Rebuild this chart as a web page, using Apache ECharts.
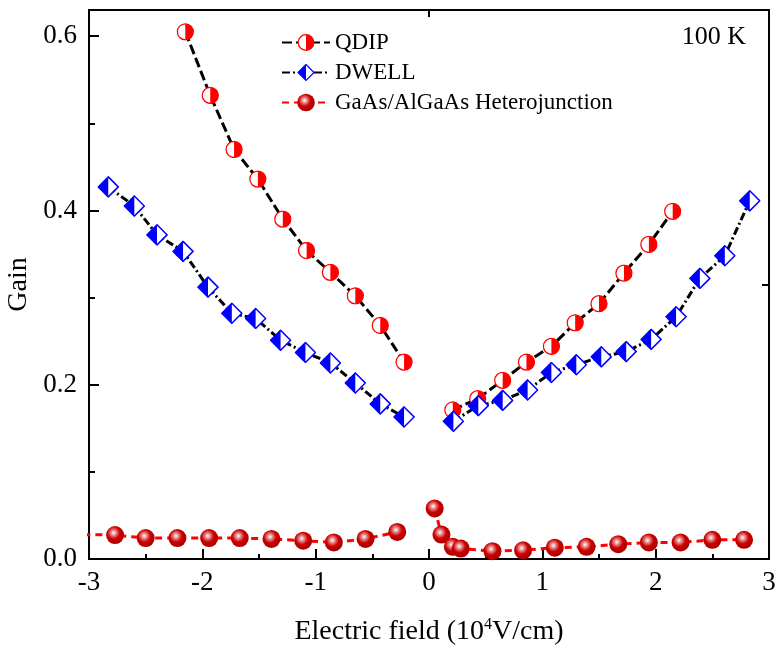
<!DOCTYPE html>
<html>
<head>
<meta charset="utf-8">
<script src="https://cdn.jsdelivr.net/npm/echarts@6/dist/echarts.min.js"></script>
<style>
html,body{margin:0;padding:0;background:#fff;}
#chart{width:775px;height:651px;}
</style>
</head>
<body>
<div id="chart"></div>
<script>
// ---- data ----
const seriesNames = ['QDIP', 'DWELL', 'GaAs/AlGaAs Heterojunction'];

const qdipXNeg = [-2.15, -1.93, -1.72, -1.51, -1.29, -1.08, -0.87, -0.65, -0.43, -0.22];
const qdipYNeg = [0.605, 0.532, 0.470, 0.436, 0.390, 0.354, 0.329, 0.302, 0.268, 0.226];
const qdipXPos = [0.21, 0.43, 0.65, 0.86, 1.08, 1.29, 1.50, 1.72, 1.94, 2.15];
const qdipYPos = [0.171, 0.184, 0.205, 0.226, 0.244, 0.271, 0.293, 0.328, 0.361, 0.399];

const dwellXNeg = [-2.83, -2.60, -2.40, -2.17, -1.95, -1.74, -1.53, -1.31, -1.09, -0.87, -0.65, -0.43, -0.22];
const dwellYNeg = [0.427, 0.405, 0.372, 0.353, 0.312, 0.282, 0.276, 0.251, 0.237, 0.225, 0.202, 0.178, 0.163];
const dwellXPos = [0.215, 0.435, 0.65, 0.87, 1.08, 1.30, 1.52, 1.74, 1.96, 2.18, 2.39, 2.61, 2.83];
const dwellYPos = [0.158, 0.176, 0.182, 0.194, 0.214, 0.223, 0.232, 0.238, 0.252, 0.278, 0.322, 0.348, 0.411];

const hetXNeg = [-3.05, -2.77, -2.50, -2.22, -1.94, -1.67, -1.39, -1.11, -0.84, -0.56, -0.28];
const hetYNeg = [0.028, 0.0275, 0.024, 0.024, 0.024, 0.024, 0.023, 0.021, 0.019, 0.023, 0.031];
const hetXPos = [0.05, 0.11, 0.21, 0.28, 0.56, 0.83, 1.11, 1.39, 1.67, 1.94, 2.22, 2.50, 2.78];
const hetYPos = [0.058, 0.028, 0.014, 0.012, 0.009, 0.010, 0.013, 0.014, 0.017, 0.019, 0.019, 0.022, 0.022];

const xTicks = [-3, -2, -1, 0, 1, 2, 3];
const yTicks = [0.0, 0.2, 0.4, 0.6];

// ---- helpers ----
function pairs(xs, ys) { return xs.map((x, i) => [x, ys[i]]); }
function joinBranches(a, b) { return a.concat([null], b); }

const FONT = "'Liberation Serif','Times New Roman',serif";

const qdipSvg = '<svg xmlns="http://www.w3.org/2000/svg" width="40" height="40" viewBox="0 0 20 20">' +
  '<circle cx="10" cy="10" r="8.9" fill="#fff" stroke="#ff0000" stroke-width="1.4"/>' +
  '<path d="M10,1.1 A8.9,8.9 0 0 1 10,18.9 Z" fill="#ff0000"/></svg>';
const dwellSvg = '<svg xmlns="http://www.w3.org/2000/svg" width="44" height="44" viewBox="0 0 22 22">' +
  '<polygon points="11,1 21,11 11,21 1,11" fill="#fff" stroke="#0000ff" stroke-width="1.5"/>' +
  '<polygon points="11,1 11,21 1,11" fill="#0000ff"/></svg>';
const qdipSym = 'image://data:image/svg+xml;charset=utf-8,' + encodeURIComponent(qdipSvg);
const dwellSym = 'image://data:image/svg+xml;charset=utf-8,' + encodeURIComponent(dwellSvg);

const sphereColor = {
  type: 'radial', x: 0.42, y: 0.38, r: 0.62,
  colorStops: [
    { offset: 0, color: '#ffffff' },
    { offset: 0.22, color: '#e89090' },
    { offset: 0.55, color: '#cc0000' },
    { offset: 1, color: '#a80000' }
  ]
};

const chart = echarts.init(document.getElementById('chart'), null, { renderer: 'canvas' });

const hiddenAxisLine = { show: false, onZero: false };

const option = {
  animation: false,
  backgroundColor: '#fff',
  textStyle: { fontFamily: FONT, color: '#000' },
  title: {
    text: '100 K',
    right: 24, top: 19,
    textStyle: { fontFamily: FONT, fontSize: 26, fontWeight: 'normal', color: '#000' }
  },
  legend: {
    data: seriesNames,
    orient: 'vertical',
    left: 276, top: 26,
    itemWidth: 48, itemHeight: 22, itemGap: 7,
    textStyle: { fontFamily: FONT, fontSize: 23, color: '#000' }
  },
  grid: {
    left: 89, right: 6, top: 10, bottom: 92,
    outerBoundsMode: 'none', containLabel: false,
    show: true, borderColor: '#000', borderWidth: 2, backgroundColor: 'transparent'
  },
  xAxis: [{
    type: 'value', min: xTicks[0], max: xTicks[xTicks.length - 1], interval: 1,
    position: 'bottom',
    name: 'Electric field (10{sup|4}V/cm)',
    nameLocation: 'middle', nameGap: 58,
    nameTextStyle: {
      fontFamily: FONT, fontSize: 28, color: '#000',
      rich: { sup: { fontFamily: FONT, fontSize: 16, verticalAlign: 'top', padding: [0, 0, 13, 0] } }
    },
    axisLine: { show: true, onZero: false, lineStyle: { color: '#000', width: 2 } },
    axisTick: { show: true, inside: true, length: 10, lineStyle: { color: '#000', width: 2 } },
    minorTick: { show: true, splitNumber: 2, length: 5, lineStyle: { color: '#000', width: 2 } },
    axisLabel: { fontFamily: FONT, fontSize: 27, color: '#000', margin: 10 },
    splitLine: { show: false }
  }, {
    type: 'value', min: -3, max: 3, interval: 3, position: 'top',
    axisLine: hiddenAxisLine,
    axisTick: { show: true, inside: true, length: 7, lineStyle: { color: '#000', width: 2 } },
    axisLabel: { show: false },
    splitLine: { show: false }
  }],
  yAxis: [{
    type: 'value', min: 0, max: 0.63, interval: 0.2,
    position: 'left',
    name: 'Gain', nameLocation: 'middle', nameGap: 54,
    nameTextStyle: { fontFamily: FONT, fontSize: 28, color: '#000' },
    axisLine: { show: true, onZero: false, lineStyle: { color: '#000', width: 2 } },
    axisTick: { show: true, inside: true, length: 10, lineStyle: { color: '#000', width: 2 } },
    axisLabel: {
      fontFamily: FONT, fontSize: 27, color: '#000', margin: 12, showMaxLabel: false,
      formatter: v => (yTicks.some(t => Math.abs(t - v) < 1e-9) ? v.toFixed(1) : '')
    },
    splitLine: { show: false }
  }, {
    type: 'value', min: 0, max: 0.63, interval: 0.1,
    position: 'left',
    axisLine: hiddenAxisLine,
    axisTick: { show: true, inside: true, length: 6, lineStyle: { color: '#000', width: 2 } },
    axisLabel: { show: false },
    splitLine: { show: false }
  }, {
    type: 'value', min: 0, max: 0.63, interval: 0.315,
    position: 'right',
    axisLine: hiddenAxisLine,
    axisTick: { show: true, inside: true, length: 7, lineStyle: { color: '#000', width: 2 } },
    axisLabel: { show: false },
    splitLine: { show: false }
  }],
  series: [{
    name: seriesNames[0], type: 'line', xAxisIndex: 0, yAxisIndex: 0,
    data: joinBranches(pairs(qdipXNeg, qdipYNeg), pairs(qdipXPos, qdipYPos)),
    connectNulls: false, z: 3,
    symbol: qdipSym, symbolSize: 18,
    lineStyle: { color: '#000', width: 3, type: [10, 4] },
    itemStyle: { color: '#ff0000' }
  }, {
    name: seriesNames[1], type: 'line', xAxisIndex: 0, yAxisIndex: 0,
    data: joinBranches(pairs(dwellXNeg, dwellYNeg), pairs(dwellXPos, dwellYPos)),
    connectNulls: false, z: 4,
    symbol: dwellSym, symbolSize: 22,
    lineStyle: { color: '#000', width: 3, type: [8, 3, 2, 3] },
    itemStyle: { color: '#0000ff' }
  }, {
    name: seriesNames[2], type: 'line', xAxisIndex: 0, yAxisIndex: 0,
    data: joinBranches(pairs(hetXNeg, hetYNeg), pairs(hetXPos, hetYPos)),
    connectNulls: false, z: 2,
    symbol: 'circle', symbolSize: 18,
    lineStyle: { color: '#ff0000', width: 3, type: [7, 5] },
    itemStyle: { color: sphereColor, borderWidth: 0 }
  }]
};
chart.setOption(option);
</script>
</body>
</html>
